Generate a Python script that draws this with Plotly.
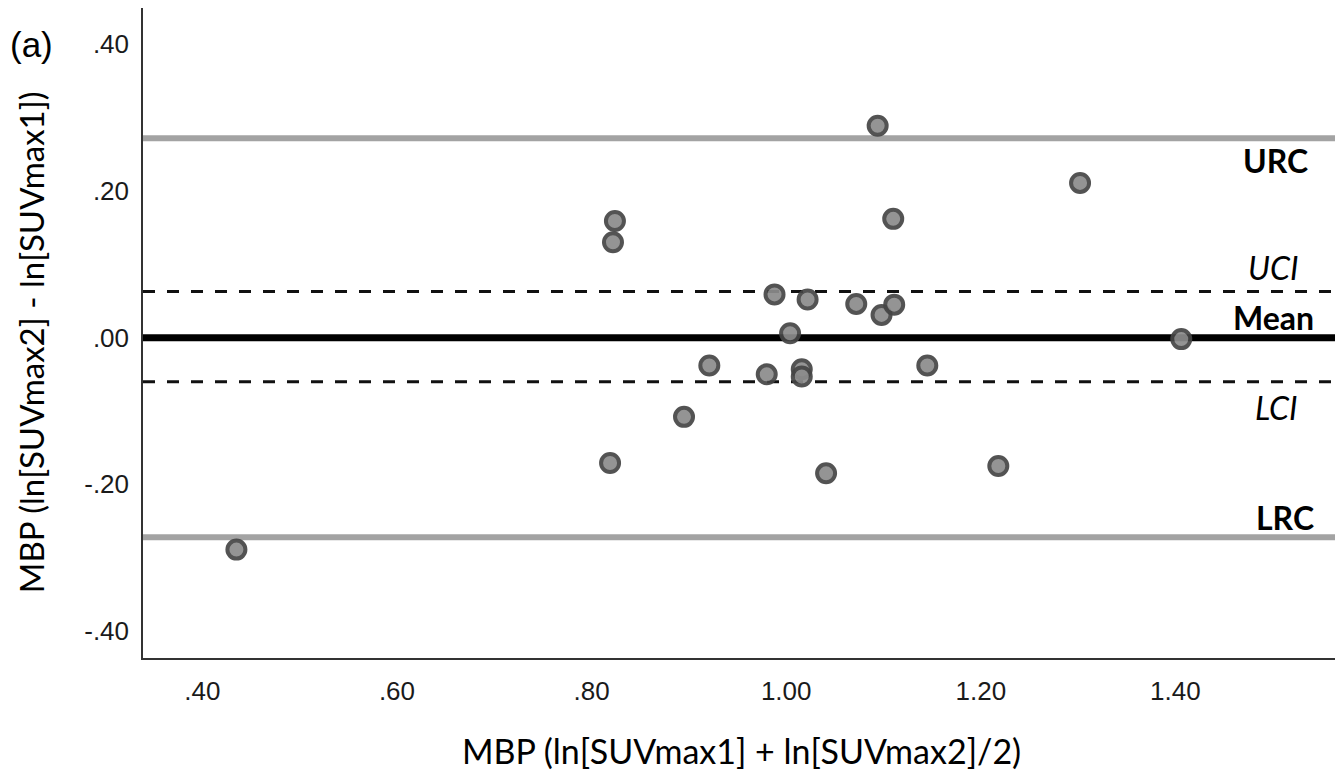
import plotly.graph_objects as go

# Data
mean_x = [0.435, 0.819, 0.824, 0.822, 0.895, 0.921, 0.980, 0.988, 1.004, 1.016, 1.016,
          1.022, 1.041, 1.072, 1.094, 1.098, 1.110, 1.111, 1.145, 1.218, 1.302, 1.406]
diff_y = [-0.289, -0.171, 0.159, 0.130, -0.108, -0.038, -0.050, 0.059, 0.006, -0.043, -0.053,
          0.052, -0.185, 0.046, 0.289, 0.031, 0.162, 0.045, -0.038, -0.175, 0.211, -0.002]

urc = 0.272
lrc = -0.272
uci = 0.063
lci = -0.060
mean_line = 0.0

x_ticks = [0.40, 0.60, 0.80, 1.00, 1.20, 1.40]
x_tick_labels = [".40", ".60", ".80", "1.00", "1.20", "1.40"]
y_ticks = [-0.40, -0.20, 0.00, 0.20, 0.40]
y_tick_labels = ["-.40", "-.20", ".00", ".20", ".40"]

x_range = [0.339, 1.564]
y_range = [-0.4368, 0.4495]

fig = go.Figure()

ref_font = "Lato, 'Open Sans', sans-serif"

def hline(y, color, width, dash="solid"):
    fig.add_trace(go.Scatter(x=x_range, y=[y, y], mode="lines",
                             line=dict(color=color, width=width, dash=dash),
                             hoverinfo="skip", showlegend=False, cliponaxis=False))

hline(urc, "#a3a3a3", 6)
hline(lrc, "#a3a3a3", 6)
hline(uci, "#111111", 3, "12px,12px")
hline(lci, "#111111", 3, "12px,12px")
hline(mean_line, "#000000", 7)

fig.add_trace(go.Scatter(
    x=mean_x, y=diff_y, mode="markers",
    marker=dict(size=18, color="#8c8c8c", opacity=0.92,
                line=dict(color="#454545", width=4)),
    showlegend=False))

labels = [
    (urc, "<b>URC</b>", 1310, -22),
    (uci, "<i>UCI</i>", 1300, 24),
    (mean_line, "<b>Mean</b>", 1316, 20),
    (lci, "<i>LCI</i>", 1300, -26),
    (lrc, "<b>LRC</b>", 1316, 20),
]
annotations = []
for yv, txt, xr, dy in labels:
    annotations.append(dict(
        x=(xr - 143) / (1335 - 143), xref="paper", y=yv, yref="y",
        text=txt, showarrow=False, xanchor="right", yanchor="middle",
        yshift=dy, font=dict(family=ref_font, size=32, color="#000")))

annotations.append(dict(x=(8 - 143) / (1335 - 143), xref="paper",
                        y=(657.7 - 44) / (657.7 - 8), yref="paper",
                        text="(a)", showarrow=False, xanchor="left", yanchor="middle",
                        font=dict(family="Liberation Sans, Arial", size=35, color="#000")))

annotations.append(dict(x=(31 - 143) / (1335 - 143), xref="paper",
                        y=(657.7 - 342) / (657.7 - 8), yref="paper",
                        text="MBP (ln[SUVmax2] - ln[SUVmax1])", textangle=-90,
                        showarrow=False, xanchor="center", yanchor="middle",
                        font=dict(family=ref_font, size=33, color="#000")))

annotations.append(dict(x=(741 - 143) / (1335 - 143), xref="paper",
                        y=-(750 - 657.7) / (657.7 - 8), yref="paper",
                        text="MBP (ln[SUVmax1] + ln[SUVmax2]/2)",
                        showarrow=False, xanchor="center", yanchor="middle",
                        font=dict(family=ref_font, size=34, color="#000")))

fig.update_layout(
    width=1344, height=778,
    margin=dict(l=143, r=9, t=8, b=120.3),
    plot_bgcolor="white", paper_bgcolor="white",
    annotations=annotations,
    xaxis=dict(range=x_range, tickvals=x_ticks, ticktext=x_tick_labels,
               showgrid=False, zeroline=False, showline=True, linecolor="#333",
               linewidth=1.5, ticks="", ticklabelstandoff=9,
               tickfont=dict(family="Liberation Sans, Arial", size=26, color="#1a1a1a")),
    yaxis=dict(range=y_range, tickvals=y_ticks, ticktext=y_tick_labels,
               showgrid=False, zeroline=False, showline=True, linecolor="#333",
               linewidth=1.5, ticks="", ticklabelstandoff=7,
               tickfont=dict(family="Liberation Sans, Arial", size=26, color="#1a1a1a")),
)

fig.write_html("out.html")
